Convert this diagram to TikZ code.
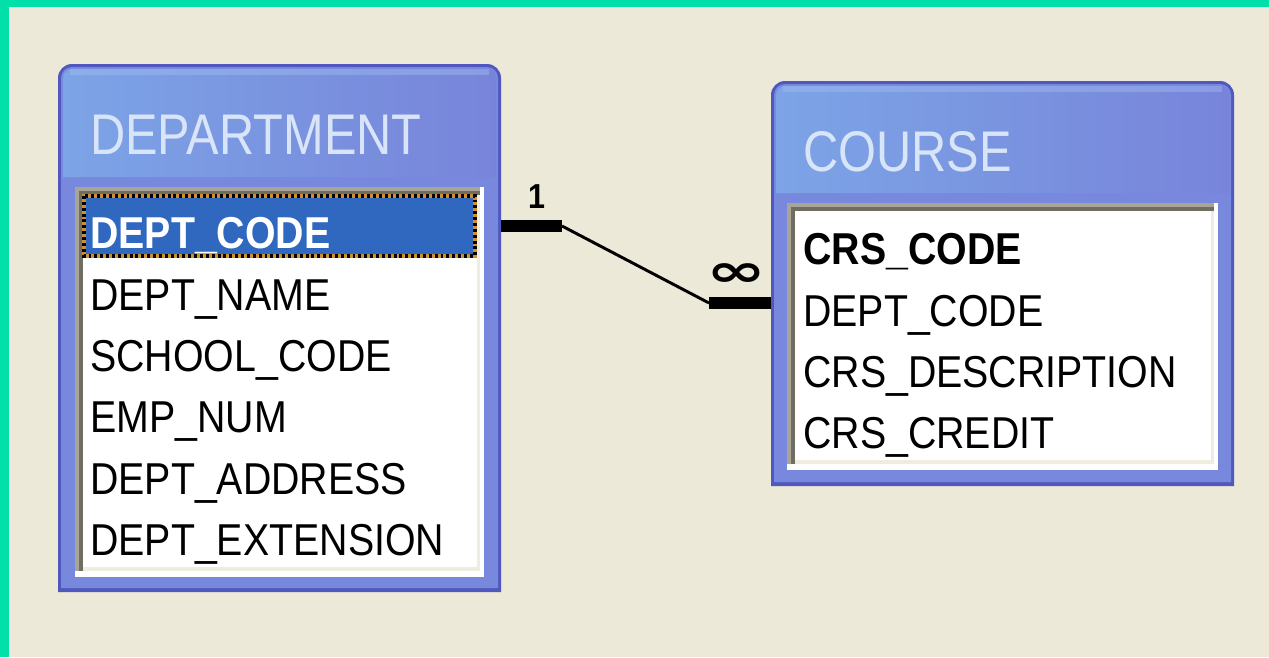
\documentclass[tikz,border=0pt]{standalone}
\usepackage{fontspec}
\newfontfamily\rowfont[FakeStretch=0.88]{Liberation Sans}
\newfontfamily\titlefont[FakeStretch=0.85]{Liberation Sans}
\newfontfamily\symfont{DejaVu Sans}
\usetikzlibrary{calc}
\definecolor{bg}{HTML}{ECE9D8}
\definecolor{edgegreen}{HTML}{00E0A8}
\definecolor{frameblue}{HTML}{7888DC}
\definecolor{framedark}{HTML}{5058C0}
\definecolor{headleft}{HTML}{7CA4E6}
\definecolor{headright}{HTML}{7884DA}
\definecolor{headhi}{HTML}{A0BCEE}
\definecolor{titletext}{HTML}{D8E4F8}
\definecolor{selblue}{HTML}{3068C0}
\definecolor{panelgray}{HTML}{A8A498}
\definecolor{paneldark}{HTML}{706E60}
\definecolor{panellight}{HTML}{EEEDE0}
\definecolor{dotorange}{HTML}{D09030}
\newcommand\tabframe[5]{%
  \fill[framedark] (#1,#4) -- (#1,{#2+14}) arc[start angle=180,end angle=270,radius=14]
    -- ({#3-14},#2) arc[start angle=270,end angle=360,radius=14] -- (#3,#4) -- cycle;
  \fill[frameblue] ({#1+3},{#4-4}) -- ({#1+3},{#2+14}) arc[start angle=180,end angle=270,radius=11]
    -- ({#3-14},{#2+3}) arc[start angle=270,end angle=360,radius=11] -- ({#3-3},{#4-4}) -- cycle;
  \shade[left color=headleft,right color=headright] ({#1+5},{#5-10}) -- ({#1+5},{#2+14}) arc[start angle=180,end angle=270,radius=9]
    -- ({#3-14},{#2+5}) arc[start angle=270,end angle=360,radius=9] -- ({#3-5},{#5-10}) -- cycle;
  \fill[headhi,opacity=0.45] ({#1+12},{#2+5}) rectangle ({#3-12},{#2+11});
}
\newcommand\tabpanel[4]{%
  \fill[white] (#1,#2) rectangle (#3,#4);
  \fill[panelgray] (#1,#2) rectangle ({#3-4},{#4-6});
  \fill[paneldark] ({#1+4},{#2+4}) rectangle ({#3-4},{#4-6});
  \fill[panellight] ({#1+8},{#2+8}) rectangle ({#3-4},{#4-6});
  \fill[white] ({#1+8},{#2+8}) rectangle ({#3-7},{#4-10});
}
\tikzset{
  row/.style={font=\rowfont\fontsize{33.5pt}{36pt}\selectfont, inner sep=0pt, anchor=base west, text=black},
  keyrow/.style={row, font=\rowfont\bfseries\fontsize{33.5pt}{36pt}\selectfont},
  tabtitle/.style={font=\titlefont\fontsize{43pt}{46pt}\selectfont, inner sep=0pt, anchor=base west, text=titletext},
  barline/.style={line width=9pt},
  relline/.style={line width=2.2pt},
  card/.style={font=\rowfont\bfseries\fontsize{26pt}{28pt}\selectfont, inner sep=0pt, anchor=base},
  manycard/.style={font=\symfont\bfseries\fontsize{40pt}{42pt}\selectfont, inner sep=0pt, xscale=1.35, yscale=0.85},
}
\begin{document}
\begin{tikzpicture}[x=0.75pt,y=-0.75pt]
\useasboundingbox (0,0) rectangle (1269,657);
\fill[bg] (0,0) rectangle (1269,657);
\fill[edgegreen] (0,0) rectangle (1269,7);
\fill[edgegreen] (0,0) rectangle (9,657);

% DEPARTMENT table
\tabframe{58}{64}{501}{592}{187}
\tabpanel{75}{187}{484}{577}
\node[tabtitle] (depttitle) at (90,154) {DEPARTMENT};
\fill[selblue] (84,196) rectangle (475,256);
\draw[dotorange,line width=2.5pt] (84,196) rectangle (475,256);
\draw[black,line width=2.5pt,dash pattern=on 2.2pt off 2.2pt] (84,196) rectangle (475,256);
\node[keyrow,text=white] (deptcode) at (90,248) {DEPT\_CODE};
\node[row] (deptname) at (90,310) {DEPT\_NAME};
\node[row] (schoolcode) at (90,371) {SCHOOL\_CODE};
\node[row] (empnum) at (90,432) {EMP\_NUM};
\node[row] (deptaddress) at (90,494) {DEPT\_ADDRESS};
\node[row] (deptext) at (90,555) {DEPT\_EXTENSION};

% COURSE table
\tabframe{771}{81}{1234}{486}{203}
\tabpanel{787}{203}{1218}{470}
\node[tabtitle] (crstitle) at (803,171) {COURSE};
\node[keyrow] (crscode) at (803,264) {CRS\_CODE};
\node[row] (crsdept) at (803,326) {DEPT\_CODE};
\node[row] (crsdesc) at (803,387) {CRS\_DESCRIPTION};
\node[row] (crscredit) at (803,448) {CRS\_CREDIT};

% relationship
\coordinate (oneend) at (501,226);
\coordinate (onebar) at (562,226);
\coordinate (manybar) at (709,303);
\coordinate (manyend) at (771,303);
\draw[barline] (oneend) -- (onebar);
\draw[relline] (onebar) -- (manybar);
\draw[barline] (manybar) -- (manyend);
\node[card] (onelabel) at (537,208) {1};
\node[manycard] (manylabel) at (736,275) {∞};
\end{tikzpicture}
\end{document}
